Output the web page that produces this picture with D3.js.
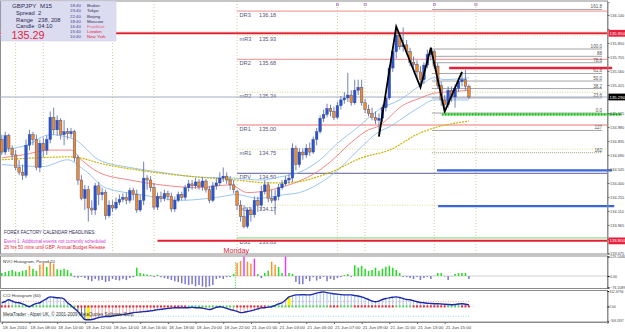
<!DOCTYPE html>
<html>
<head>
<meta charset="utf-8">
<script src="https://cdn.jsdelivr.net/npm/d3@7"></script>
<style>
  body { margin: 0; background: #fff; }
  svg { display: block; }
  text { font-family: "Liberation Sans", Arial, sans-serif; }
</style>
</head>
<body>
<svg id="stage" width="625" height="332"></svg>
<script>
// GBPJPY M15, 18 Jun 2010 06:00 .. 21 Jun 2010 16:45
var opens = [134.85,134.72,134.89,134.76,134.69,134.56,134.51,134.48,134.79,134.90,
  134.85,134.56,134.81,134.74,134.85,135.08,134.95,135.05,134.90,134.93,
  134.91,134.93,134.66,134.43,134.24,134.33,134.14,134.12,134.37,134.28,
  134.30,134.06,134.17,134.14,134.20,134.23,134.25,134.22,134.32,134.28,
  134.12,134.22,134.45,134.43,134.35,134.15,134.26,134.24,134.29,134.26,
  134.13,134.22,134.28,134.25,134.35,134.39,134.37,134.41,134.36,134.42,
  134.33,134.22,134.37,134.40,134.45,134.47,134.43,134.38,134.31,134.17,
  134.05,133.95,134.12,134.07,134.22,134.17,134.31,134.38,134.24,134.22,
  134.26,134.35,134.39,134.43,134.45,134.76,134.59,134.72,134.69,134.76,
  134.72,134.85,134.93,135.07,135.11,135.17,135.14,135.08,135.20,135.26,
  135.28,135.31,135.23,135.36,135.39,135.23,135.16,135.12,135.08,135.05,
  135.07,135.18,135.28,135.59,135.76,135.93,135.81,135.83,135.76,135.65,
  135.63,135.55,135.47,135.62,135.73,135.76,135.61,135.41,135.26,135.21,
  135.36,135.29,135.38,135.45,135.47,135.40];
var closes = [134.72,134.89,134.76,134.69,134.56,134.51,134.48,134.79,134.90,134.85,
  134.56,134.81,134.74,134.85,135.08,134.95,135.05,134.90,134.93,134.91,
  134.93,134.66,134.43,134.24,134.33,134.14,134.12,134.37,134.28,134.30,
  134.06,134.17,134.14,134.20,134.23,134.25,134.22,134.32,134.28,134.12,
  134.22,134.45,134.43,134.35,134.15,134.26,134.24,134.29,134.26,134.13,
  134.22,134.28,134.25,134.35,134.39,134.37,134.41,134.36,134.42,134.33,
  134.22,134.37,134.40,134.45,134.47,134.43,134.38,134.33,134.17,134.05,
  133.95,134.12,134.07,134.22,134.17,134.31,134.38,134.24,134.22,134.26,
  134.35,134.39,134.43,134.45,134.76,134.59,134.72,134.69,134.76,134.72,
  134.85,134.93,135.07,135.11,135.17,135.14,135.08,135.20,135.26,135.28,
  135.31,135.23,135.36,135.39,135.23,135.16,135.12,135.08,135.05,135.07,
  135.18,135.28,135.59,135.76,135.93,135.81,135.83,135.76,135.65,135.63,
  135.55,135.47,135.62,135.73,135.76,135.61,135.41,135.26,135.21,135.36,
  135.29,135.38,135.45,135.47,135.40,135.29];
var highs = [134.90,134.93,134.91,134.79,134.74,134.64,134.59,134.85,134.95,134.93,
  134.90,134.85,134.87,134.89,135.14,135.18,135.10,135.07,135.05,134.97,
  134.97,134.95,134.69,134.48,134.38,134.37,134.22,134.40,134.41,134.35,
  134.33,134.22,134.22,134.25,134.28,134.29,134.30,134.35,134.35,134.33,
  134.28,134.62,134.48,134.47,134.40,134.30,134.31,134.33,134.32,134.30,
  134.26,134.31,134.31,134.38,134.43,134.43,134.45,134.44,134.46,134.44,
  134.37,134.41,134.45,134.51,134.56,134.51,134.47,134.43,134.33,134.22,
  134.17,134.14,134.15,134.26,134.26,134.37,134.43,134.41,134.33,134.33,
  134.39,134.43,134.47,134.49,134.81,134.79,134.76,134.76,134.80,134.82,
  134.88,134.97,135.10,135.16,135.22,135.21,135.19,135.24,135.30,135.34,
  135.54,135.36,135.47,135.47,135.47,135.27,135.21,135.18,135.14,135.12,
  135.21,135.30,135.62,135.80,136.02,135.96,136.01,135.88,135.80,135.71,
  135.67,135.61,135.65,135.78,135.80,135.78,135.64,135.45,135.31,135.40,
  135.40,135.42,135.49,135.55,135.57,135.42];
var lows = [134.69,134.69,134.72,134.64,134.53,134.48,134.43,134.45,134.74,134.79,
  134.53,134.51,134.67,134.69,134.81,134.90,134.89,134.85,134.79,134.85,
  134.87,134.62,134.38,134.22,134.12,134.00,134.07,134.07,134.17,134.22,
  134.02,134.04,134.10,134.12,134.17,134.20,134.18,134.19,134.22,134.09,
  134.10,134.17,134.33,134.31,134.12,134.12,134.20,134.21,134.22,134.10,
  134.10,134.20,134.22,134.22,134.31,134.33,134.34,134.33,134.32,134.30,
  134.19,134.20,134.33,134.37,134.41,134.39,134.33,134.29,134.12,134.00,
  133.93,133.93,134.00,134.04,134.10,134.12,134.28,134.20,134.19,134.07,
  134.22,134.33,134.37,134.39,134.41,134.53,134.56,134.64,134.66,134.68,
  134.70,134.79,134.91,135.03,135.08,135.09,135.05,135.06,135.16,135.22,
  135.24,135.20,135.21,135.31,135.20,135.12,135.09,135.05,135.01,134.90,
  135.03,135.14,135.26,135.55,135.69,135.78,135.76,135.73,135.61,135.59,
  135.49,135.39,135.43,135.59,135.67,135.58,135.38,135.20,135.14,135.18,
  135.24,135.18,135.34,135.40,135.36,135.27];

// moving averages, read at knots (bar index, price)
var yellowBars = [0,10,20,30,40,57,68,77,85,91,95,104,112,121,125,135];
var yellowMA = [134.64,134.66,134.67,134.59,134.53,134.46,134.43,134.40,134.41,134.46,134.51,134.66,134.74,134.92,134.97,135.04];
var redBars = [0,6,14,20,23,28,37,46,57,66,71,78,83,86,90,95,101,106,109,112,115,121,125,128,135];
var redMA = [134.66,134.69,134.74,134.74,134.64,134.51,134.43,134.38,134.35,134.38,134.30,134.33,134.38,134.42,134.49,134.62,134.82,134.95,134.99,135.08,135.18,135.28,135.33,135.34,135.36];
var bandUpBars = [0,7,14,21,28,37,46,57,67,75,80,86,92,97,103,109,115,121,125,128,135];
var bandUp = [134.74,134.79,134.90,134.85,134.64,134.56,134.51,134.46,134.45,134.43,134.46,134.51,134.64,134.81,134.98,135.16,135.26,135.41,135.49,135.47,135.49];
var bandLoBars = [0,12,19,24,30,40,52,62,68,74,82,86,92,97,103,109,112,115,121,125,128,135];
var bandLo = [134.59,134.57,134.64,134.53,134.35,134.28,134.22,134.25,134.28,134.24,134.28,134.30,134.40,134.53,134.74,134.93,134.98,135.05,135.19,135.26,135.26,135.26];

var zzBars = [109,114,121,124,128,133];
var zzPrices = [134.88,136.02,135.39,135.80,135.14,135.55];

var pivotNames = ['DR3','mR3','DR2','mR2','DR1','mR1','DPV','mS1','DS1'];
var pivotValues = [136.18,135.93,135.68,135.34,135.00,134.75,134.50,134.17,133.83];

var fibLabels = ['161.8','100.0','88','78.6','61.8','50.0','38.2','23.6','0.0','127','162'];
var fibRatios = [-0.618,1,0.886,0.786,0.618,0.5,0.382,0.236,0,1.272,1.618];
var fibZero = 135.124, fibHundred = 135.787;

var priceTicks = [136.140,135.995,135.850,135.705,135.560,135.415,135.270,135.125,134.980,
  134.835,134.690,134.545,134.400,134.255,134.110,133.965,133.820,133.675];
var sessionBars = [4,12,32,44,68,97,105,125,137];

var timeBars = [0,8,16,24,32,40,48,56,64,72,80,88,96,104,112,120,128];
var timeLabels = ['18 Jun 2010','18 Jun 08:00','18 Jun 10:00','18 Jun 12:00','18 Jun 14:00',
  '18 Jun 16:00','18 Jun 18:00','18 Jun 20:00','18 Jun 22:00','21 Jun 01:00','21 Jun 03:00',
  '21 Jun 05:00','21 Jun 07:00','21 Jun 09:00','21 Jun 11:00','21 Jun 13:00','21 Jun 15:00'];

var nvo = [20,27,34,40,30,27,34,40,68,48,
  34,75,88,60,95,82,45,40,48,40,
  20,-8,-12,-6,-14,-25,-34,-20,-30,-27,
  -40,-34,-20,-27,-30,-20,-27,-14,-8,55,
  20,14,10,6,-6,8,-8,-14,-20,-27,
  -34,-40,-48,-55,-60,-55,-68,-60,-70,-75,
  -68,-60,-20,-14,-20,-8,-6,14,88,100,
  129,95,82,115,14,-14,20,34,95,75,
  60,20,129,20,14,-40,-55,-55,-20,-34,
  -8,-30,-20,-6,-34,-20,-27,-14,-6,6,
  14,-6,72,55,68,48,34,40,55,34,
  48,62,68,55,40,20,-6,-8,-14,-20,
  -6,-27,-14,-6,-20,2,20,20,-3,-27,
  -3,14,20,20,20,-20];
var nvoOrange = [8,11,12,14,15,68,69,71,72,78,79];
var nvoMagenta = [70,73,82];

var cci = [74,100,134,110,80,74,50,20,-6,30,60,
  74,120,160,194,185,175,174,150,74,20,
  -40,-106,-190,-266,-270,-266,-250,-226,-215,-206,
  -206,-195,-185,-175,-166,-155,-140,-126,-120,-113,
  -106,-100,-90,-80,-66,-60,-50,-40,-35,-26,
  -26,-30,-26,-26,-20,-26,-26,-35,-50,-66,
  -45,-20,-6,-20,-40,-66,-80,-100,-126,-120,
  -106,-90,-70,-50,-30,-26,-15,-6,20,50,
  74,130,194,215,234,234,240,234,234,250,
  270,285,294,280,270,254,250,240,234,234,
  234,220,210,194,170,140,110,94,110,140,
  160,174,185,194,180,160,140,134,115,95,
  80,74,65,60,55,54,50,45,40,34,
  40,50,54,45,34];
var cciGrey = [22,23,24];
var cciYellow = [25,83];
// zero-line dots: runs of [colour, count]
var dotRuns = [['r',3],['g',19],['r',32],['g',14],['r',9],['g',18],['r',3],['g',4],['r',12],['g',5],['r',10],['g',4],['r',3]];

var infoTimes = ['18:40','23:40','22:40','18:40','16:40','15:40','10:40'];
var infoCities = ['Broker','Tokyo','Beijing','Moscow','Frankfurt','London','New York'];

var svg = d3.select('#stage'),
    PLOT_R = 607.5;

var x = d3.scaleLinear().domain([0, 175]).range([1.8, 607.3]),
    y = d3.scaleLinear().domain([133.664, 136.274]).range([254, 2]),
    yNvo = d3.scaleLinear().domain([-76.1089, 129.1446]).range([287.5, 256.5]),
    yCci = d3.scaleLinear().domain([-306.1837, 312.6794]).range([321.5, 291]);

svg.append('rect').attr('width', 625).attr('height', 332).attr('fill', '#fff');
svg.append('defs').append('clipPath').attr('id', 'mainClip')
  .append('rect').attr('x', 0).attr('y', 1).attr('width', PLOT_R).attr('height', 253);

// panel frames
[[1, 254], [256, 288.5], [290.5, 322]].forEach(function (p) {
  svg.append('rect').attr('x', 0.5).attr('y', p[0]).attr('width', PLOT_R - 0.5)
    .attr('height', p[1] - p[0]).attr('fill', 'none').attr('stroke', '#8c8c8c').attr('stroke-width', 1);
});

var main = svg.append('g').attr('clip-path', 'url(#mainClip)');

// session separators
main.selectAll('line.sess').data(sessionBars).enter().append('line')
  .attr('x1', function (d) { return x(d); }).attr('x2', function (d) { return x(d); })
  .attr('y1', 1).attr('y2', 254)
  .attr('stroke', '#c4c27e').attr('stroke-width', 0.8).attr('stroke-dasharray', '1,2');
svg.selectAll('rect.mark').data(sessionBars.slice(5)).enter().append('rect')
  .attr('x', function (d) { return x(d) - 1; }).attr('y', 3.5).attr('width', 2.2).attr('height', 2.2)
  .attr('fill', 'none').attr('stroke', '#b070d0').attr('stroke-width', 0.6);

// pivot levels
var pivotStyle = {
  DR3: ['#f3a3a3', 1.4, null], mR3: ['#d6d28a', 0.9, '1,1.5'], DR2: ['#f3a3a3', 1.4, null],
  mR2: ['#d0cc80', 0.9, '1,1.5'], DR1: ['#f3a3a3', 1.4, null], mR1: ['#d6d28a', 0.9, '1,1.5'],
  DPV: ['#5a5a98', 1, null], mS1: ['#d6d28a', 0.9, '1,1.5'], DS1: ['#90e090', 1.2, null]
};
pivotNames.forEach(function (n, k) {
  var st = pivotStyle[n], py = y(pivotValues[k]);
  main.append('line').attr('x1', x(68)).attr('x2', PLOT_R).attr('y1', py).attr('y2', py)
    .attr('stroke', st[0]).attr('stroke-width', st[1]).attr('stroke-dasharray', st[2]);
  main.append('text').attr('x', x(68) + 2.5).attr('y', py + 5.6)
    .attr('font-size', 5.6).attr('fill', '#55557a').text(n);
  main.append('text').attr('x', x(68) + 22).attr('y', py + 5.6)
    .attr('font-size', 5.6).attr('fill', '#55557a').text(pivotValues[k].toFixed(2));
});

// fibonacci levels
fibRatios.forEach(function (r, k) {
  var fp = fibZero + r * (fibHundred - fibZero);
  if (k >= 9) fp = fibHundred - r * (fibHundred - fibZero);
  if (k === 0) fp = fibZero + 1.618 * (fibHundred - fibZero);
  var py = y(fp);
  main.append('line').attr('x1', x(124.3)).attr('x2', x(173.5)).attr('y1', py).attr('y2', py)
    .attr('stroke', k === 10 ? '#b4b4a0' : '#9a9a9a').attr('stroke-width', k === 10 ? 1.4 : 0.9)
    .attr('stroke-dasharray', k === 10 ? '1,1' : null);
  main.append('text').attr('x', x(173.5)).attr('y', py - 1).attr('text-anchor', 'end')
    .attr('font-size', 4.6).attr('fill', '#555').text(fibLabels[k]);
});

// bid line and red levels
main.append('line').attr('x1', 0).attr('x2', PLOT_R).attr('y1', y(135.29)).attr('y2', y(135.29))
  .attr('stroke', '#a4abc4').attr('stroke-width', 1);
main.append('line').attr('x1', 0).attr('x2', PLOT_R).attr('y1', y(135.95)).attr('y2', y(135.95))
  .attr('stroke', '#f7b4b4').attr('stroke-width', 3);
main.append('line').attr('x1', 0).attr('x2', PLOT_R).attr('y1', y(135.95)).attr('y2', y(135.95))
  .attr('stroke', '#e0202e').attr('stroke-width', 1.6);
main.append('line').attr('x1', x(45)).attr('x2', PLOT_R).attr('y1', y(133.80)).attr('y2', y(133.80))
  .attr('stroke', '#e0202e').attr('stroke-width', 2);

// moving averages
function maLine(bars, vals, color, width, dash) {
  var pts = bars.map(function (b, k) { return [b, vals[k]]; });
  main.append('path').datum(pts)
    .attr('d', d3.line().x(function (d) { return x(d[0]); }).y(function (d) { return y(d[1]); })
      .curve(d3.curveMonotoneX))
    .attr('fill', 'none').attr('stroke', color).attr('stroke-width', width).attr('stroke-dasharray', dash);
}
maLine(bandUpBars, bandUp, '#8fc0f0', 0.9);
maLine(bandLoBars, bandLo, '#8fc0f0', 0.9);
maLine(redBars, redMA, '#f07a7a', 0.9);
maLine(yellowBars, yellowMA, '#c9b400', 1.2, '2,1');

// candles
var bars = d3.range(closes.length);
var candles = main.append('g').selectAll('g').data(bars).enter().append('g');
candles.append('line')
  .attr('x1', function (i) { return x(i); }).attr('x2', function (i) { return x(i); })
  .attr('y1', function (i) { return y(highs[i]); }).attr('y2', function (i) { return y(lows[i]); })
  .attr('stroke', '#6374ac').attr('stroke-width', 0.9);
candles.append('rect')
  .attr('x', function (i) { return x(i) - 1.3; }).attr('width', 2.6)
  .attr('y', function (i) { return y(Math.max(opens[i], closes[i])); })
  .attr('height', function (i) { return Math.max(0.8, Math.abs(y(opens[i]) - y(closes[i]))); })
  .attr('fill', function (i) { return closes[i] >= opens[i] ? '#2d54c8' : '#f28a1e'; })
  .attr('stroke', '#2b45a0').attr('stroke-width', 0.4);

// zigzag
main.append('path').datum(zzBars.map(function (b, k) { return [b, zzPrices[k]]; }))
  .attr('d', d3.line().x(function (d) { return x(d[0]); }).y(function (d) { return y(d[1]); }))
  .attr('fill', 'none').attr('stroke', '#000').attr('stroke-width', 1.8);

// thick position lines
function thick(b0, b1, price, color, dash) {
  svg.append('line').attr('x1', x(b0)).attr('x2', x(b1)).attr('y1', y(price)).attr('y2', y(price))
    .attr('stroke', color).attr('stroke-width', 2.4).attr('stroke-dasharray', dash);
}
thick(129.3, 176.4, 135.59, '#e8203c');
thick(127.2, 179.2, 135.11, '#70e070');
thick(127.2, 179.2, 135.11, '#1cb81c', '1.5,1.5');
thick(125.8, 176.4, 134.53, '#3a66d8');
thick(126.1, 177.0, 134.16, '#3a66d8');

// price axis (labels under the coloured price boxes are hidden, as in the terminal)
var boxPrices = [135.95, 135.29, 133.80];
var shownTicks = priceTicks.filter(function (t) {
  return boxPrices.every(function (b) { return Math.abs(y(t) - y(b)) > 5; });
});
var axisP = svg.append('g').attr('transform', 'translate(' + PLOT_R + ',0)')
  .call(d3.axisRight(y).tickValues(priceTicks).tickFormat(function (d) {
    return shownTicks.indexOf(d) >= 0 ? d3.format('.3f')(d) : '';
  }).tickSize(2).tickPadding(0.6));
axisP.select('.domain').attr('stroke', '#8c8c8c');
axisP.selectAll('text').attr('font-size', 3.9).attr('fill', '#444');
axisP.selectAll('line').attr('stroke', '#666');

function axisBox(price, fill, label) {
  var py = y(price);
  svg.append('rect').attr('x', PLOT_R + 1).attr('y', py - 3.4).attr('width', 16.5).attr('height', 6.8).attr('fill', fill);
  svg.append('text').attr('x', PLOT_R + 2).attr('y', py + 1.6).attr('font-size', 4.3)
    .attr('fill', '#fff').text(label);
}
axisBox(135.95, '#e8203c', '135.950');
axisBox(135.29, '#000', '135.290');
axisBox(133.80, '#e8203c', '133.800');

// info box
var info = svg.append('g');
info.append('rect').attr('x', 1).attr('y', 1).attr('width', 115).attr('height', 40)
  .attr('fill', '#dcdcf1').attr('stroke', '#c8c8e4').attr('stroke-width', 0.5);
info.append('text').attr('x', 12).attr('y', 7.8).attr('font-size', 6.2).attr('fill', '#2a2a55').text('GBPJPY');
info.append('text').attr('x', 40).attr('y', 7.8).attr('font-size', 6.2).attr('fill', '#2a2a55').text('M15');
[['Spread', '2'], ['Range', '238, 208'], ['Candle', '04:10']].forEach(function (r, k) {
  info.append('text').attr('x', 16).attr('y', 15 + k * 6.7).attr('font-size', 5.8).attr('fill', '#2a2a55').text(r[0]);
  info.append('text').attr('x', 38).attr('y', 15 + k * 6.7).attr('font-size', 5.8).attr('fill', '#2a2a55').text(r[1]);
});
info.append('text').attr('x', 11.5).attr('y', 38.5).attr('font-size', 10.8).attr('fill', '#e8203c').text('135.29');
infoTimes.forEach(function (t, k) {
  var cy = 7.3 + k * 5.15;
  info.append('text').attr('x', 70).attr('y', cy).attr('font-size', 4.4).attr('fill', '#4a3a8e').text(t);
  info.append('text').attr('x', 87).attr('y', cy).attr('font-size', 4.4)
    .attr('fill', k < 4 ? '#2a2a55' : (k === 4 ? '#e86080' : '#e8203c')).text(infoCities[k]);
});

// calendar headlines
svg.append('text').attr('x', 4).attr('y', 233.5).attr('font-size', 4.5).attr('fill', '#2a2a55')
  .text('FOREX FACTORY CALENDAR  HEADLINES:');
svg.append('text').attr('x', 4).attr('y', 242.5).attr('font-size', 4.6).attr('fill', '#d040d0')
  .text('Event 1: Additional events not currently scheduled');
svg.append('text').attr('x', 4).attr('y', 248.5).attr('font-size', 4.6).attr('fill', '#e8203c')
  .text('26 hrs 50 mins until GBP: Annual Budget Release');
svg.append('text').attr('x', x(67.8)).attr('y', 253).attr('text-anchor', 'middle')
  .attr('font-size', 7.2).attr('fill', '#e8203c').text('Monday');

// NVO histogram
svg.append('line').attr('x1', 0.5).attr('x2', PLOT_R).attr('y1', yNvo(0)).attr('y2', yNvo(0))
  .attr('stroke', '#c8c8c8').attr('stroke-width', 0.8);
svg.append('line').attr('x1', x(67.5)).attr('x2', x(67.5)).attr('y1', 262).attr('y2', 288)
  .attr('stroke', '#5ccc5c').attr('stroke-width', 0.8).attr('stroke-dasharray', '1.5,1');
svg.append('g').selectAll('line').data(bars).enter().append('line')
  .attr('x1', function (i) { return x(i); }).attr('x2', function (i) { return x(i); })
  .attr('y1', yNvo(0)).attr('y2', function (i) { return yNvo(nvo[i]); })
  .attr('stroke', function (i) {
    if (nvoMagenta.indexOf(i) >= 0) return '#f03cf0';
    if (nvoOrange.indexOf(i) >= 0) return '#f7962c';
    return nvo[i] >= 0 ? '#22dd22' : '#7a78d0';
  })
  .attr('stroke-width', 1.5);
svg.append('text').attr('x', 3).attr('y', 262.5).attr('font-size', 4.4).attr('fill', '#333')
  .text('NVO Histogram, Period 20');
var axisN = svg.append('g').attr('transform', 'translate(' + PLOT_R + ',0)')
  .call(d3.axisRight(yNvo).tickValues([129.1446, 0, -76.1089])
    .tickFormat(function (d) { return d === 0 ? '0.00' : d3.format('.4f')(d); }).tickSize(2).tickPadding(0.6));
axisN.select('.domain').attr('stroke', '#8c8c8c');
axisN.selectAll('text').attr('font-size', 3.6).attr('fill', '#444');

// CCI histogram
var dotColors = [];
dotRuns.forEach(function (r) { for (var k = 0; k < r[1]; k++) dotColors.push(r[0]); });
svg.append('line').attr('x1', 0.5).attr('x2', x(135.5)).attr('y1', yCci(100)).attr('y2', yCci(100))
  .attr('stroke', '#f08080').attr('stroke-width', 0.7).attr('stroke-dasharray', '1,1.5');
svg.append('line').attr('x1', 0.5).attr('x2', x(135.5)).attr('y1', yCci(-200)).attr('y2', yCci(-200))
  .attr('stroke', '#70d0d0').attr('stroke-width', 0.7).attr('stroke-dasharray', '1,1.5');
svg.append('g').selectAll('line').data(bars).enter().append('line')
  .attr('x1', function (i) { return x(i); }).attr('x2', function (i) { return x(i); })
  .attr('y1', yCci(0)).attr('y2', function (i) { return yCci(cci[i]); })
  .attr('stroke', function (i) {
    if (cciYellow.indexOf(i) >= 0) return '#ffef00';
    if (cciGrey.indexOf(i) >= 0) return '#555';
    return cci[i] >= 0 ? '#9cc0ee' : '#f4a4a4';
  })
  .attr('stroke-width', function (i) { return cciYellow.indexOf(i) >= 0 ? 3 : 0.9; });
svg.append('g').selectAll('rect').data(bars).enter().append('rect')
  .attr('x', function (i) { return x(i) - 1; }).attr('y', yCci(0) - 1).attr('width', 2).attr('height', 2)
  .attr('fill', function (i) { return dotColors[i] === 'r' ? '#f0202c' : '#5ad05a'; });
svg.append('path').datum(bars)
  .attr('d', d3.line().x(function (i) { return x(i); }).y(function (i) { return yCci(cci[i]); }).curve(d3.curveMonotoneX))
  .attr('fill', 'none').attr('stroke', '#1a2aa8').attr('stroke-width', 1.4);
svg.append('text').attr('x', 3).attr('y', 297).attr('font-size', 4.4).attr('fill', '#333')
  .text('CCI Histogram  (60)');
svg.append('text').attr('x', 3).attr('y', 316).attr('font-size', 4.5).attr('fill', '#333')
  .text('MetaTrader - Alpari UK, \u00a9 2001-2009 MetaQuotes Software Corp.');
var axisC = svg.append('g').attr('transform', 'translate(' + PLOT_R + ',0)')
  .call(d3.axisRight(yCci).tickValues([312.6794, 0, -306.1837])
    .tickFormat(function (d) { return d === 0 ? '0.00' : d3.format('.4f')(d); }).tickSize(1.5).tickPadding(0.3));
axisC.select('.domain').attr('stroke', '#8c8c8c');
axisC.selectAll('text').attr('font-size', 3.4).attr('fill', '#444');
axisC.selectAll('.tick').filter(function (d) { return d < 0; }).select('text')
  .attr('font-size', 3.0).attr('dy', '-0.1em');

// time axis
var axisT = svg.append('g').attr('transform', 'translate(0,322)')
  .call(d3.axisBottom(x).tickValues(timeBars)
    .tickFormat(function (d, k) { return timeLabels[k]; }).tickSize(2).tickPadding(1.5));
axisT.select('.domain').attr('stroke', '#8c8c8c');
axisT.selectAll('text').attr('font-size', 4.4).attr('fill', '#444').attr('text-anchor', 'start').attr('dx', 0.5);
axisT.selectAll('line').attr('stroke', '#666');
</script>
</body>
</html>
